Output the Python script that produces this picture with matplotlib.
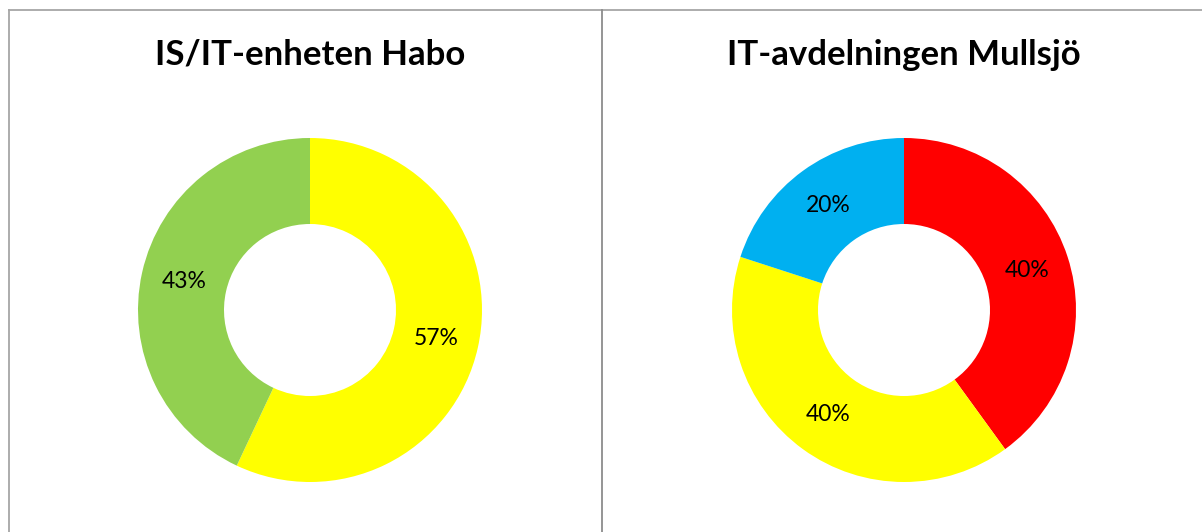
import matplotlib
matplotlib.use('Agg')
import matplotlib.pyplot as plt
from matplotlib.lines import Line2D

# Data
habo_titel = 'IS/IT-enheten Habo'
habo_varden = [57, 43]
habo_farger = ['#FFFF00', '#92D050']

mullsjo_titel = 'IT-avdelningen Mullsjö'
mullsjo_varden = [40, 40, 20]
mullsjo_farger = ['#FF0000', '#FFFF00', '#00B0F0']

plt.rcParams['font.family'] = ['Lato', 'DejaVu Sans']

W, H = 1202, 532
fig = plt.figure(figsize=(W / 100, H / 100), dpi=100)
fig.patch.set_facecolor('white')


def munk(cx, cy, r, titel, varden, farger):
    # cx, cy, r in pixels (y measured from top)
    ax = fig.add_axes([(cx - r) / W, (H - cy - r) / H, 2 * r / W, 2 * r / H])
    ax.pie(varden, colors=farger, startangle=90, counterclock=False,
           radius=1.0, autopct='%1.0f%%', pctdistance=0.75,
           wedgeprops=dict(width=0.5, edgecolor='none'),
           textprops=dict(fontsize=16.5, color='black'))
    ax.set_xlim(-1, 1)
    ax.set_ylim(-1, 1)
    ax.set_aspect('equal')
    ax.axis('off')
    fig.text(cx / W, 1 - 55 / H, titel, ha='center', va='center',
             fontsize=25, fontweight='bold', color='black')


munk(310, 310, 172, habo_titel, habo_varden, habo_farger)
munk(904, 310, 172, mullsjo_titel, mullsjo_varden, mullsjo_farger)

# Ramar
kant = '#A6A6A6'
fig.add_artist(Line2D([8.5 / W, 8.5 / W], [0, 1 - 9.5 / H], color=kant, lw=1.3))
fig.add_artist(Line2D([8.5 / W, 1], [1 - 9.5 / H, 1 - 9.5 / H], color=kant, lw=1.3))
fig.add_artist(Line2D([601.5 / W, 601.5 / W], [0, 1 - 9.5 / H], color='#8C8C8C', lw=1.3))

fig.savefig('out.png', dpi=100, facecolor='white')
